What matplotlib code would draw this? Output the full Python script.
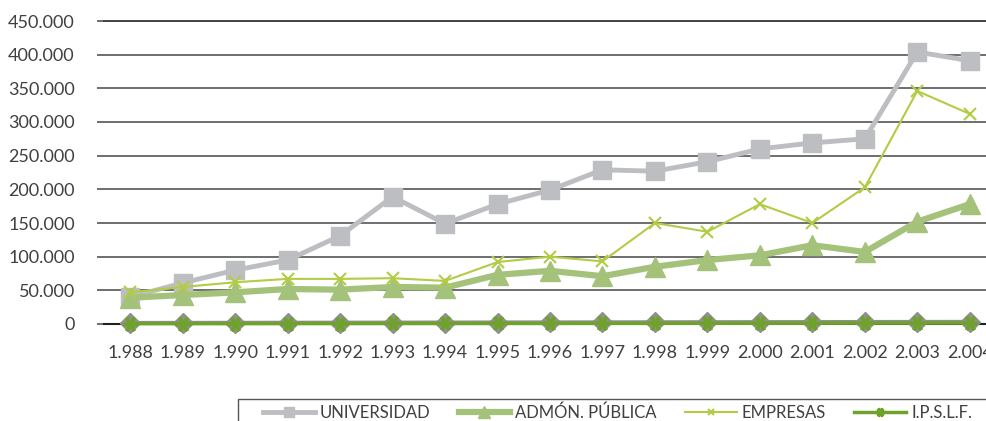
import numpy as np
import matplotlib
matplotlib.use("Agg")
import matplotlib.pyplot as plt
from matplotlib.patches import Rectangle
from matplotlib.ticker import FuncFormatter

plt.rcParams['font.family'] = ['Lato', 'DejaVu Sans']

years = ["1.988", "1.989", "1.990", "1.991", "1.992", "1.993", "1.994", "1.995", "1.996",
         "1.997", "1.998", "1.999", "2.000", "2.001", "2.002", "2.003", "2.004"]

universidad = [40000, 61000, 80000, 95000, 131000, 189000, 149000, 178000, 199000,
               229000, 227000, 241000, 260000, 269000, 275000, 404000, 391000]
admon = [39000, 43000, 47000, 52000, 51000, 55000, 54000, 73000, 79000,
         71000, 85000, 95000, 102000, 117000, 107000, 152000, 178000]
empresas = [47000, 55000, 62000, 67000, 67000, 68000, 64000, 92000, 100000,
            93000, 150000, 137000, 178000, 150000, 203000, 346000, 312000]
ipslf = [500, 600, 600, 700, 700, 800, 800, 900, 900,
         1000, 1000, 1100, 1200, 1200, 1300, 1400, 1500]
# grey diamond series hidden behind I.P.S.L.F. (its legend entry is cut off)
otros = [1500, 1600, 1700, 1800, 1900, 2000, 2100, 2200, 2300,
         2400, 2500, 2600, 2700, 2800, 2900, 3000, 3100]

c_univ = '#bdbec1'
c_admon = '#a4c27a'
c_emp = '#b2cc45'
c_ipslf = '#6fa22b'
c_otros = '#909090'
c_text = '#404040'

W, H = 987, 421
fig = plt.figure(figsize=(W / 100, H / 100), dpi=100)
ax = fig.add_axes([104 / W, 1 - 324 / H, 892 / W, (324 - 21) / H])

x = np.arange(len(years))

ax.plot(x, otros, color=c_otros, lw=3, marker='D', ms=10, mec=c_otros, mfc=c_otros,
        zorder=3, clip_on=False)
ax.plot(x, ipslf, color=c_ipslf, lw=2.5, marker=(6, 2, 90), ms=11, mew=2.4,
        mec=c_ipslf, label='I.P.S.L.F.', zorder=3.5, clip_on=False)
ax.plot(x, universidad, color=c_univ, lw=3.5, marker='s', ms=13, mec=c_univ, mfc=c_univ,
        label='UNIVERSIDAD', zorder=4)
ax.plot(x, admon, color=c_admon, lw=4.5, marker='^', ms=14, mec=c_admon, mfc=c_admon,
        label='ADMÓN. PÚBLICA', zorder=5)
ax.plot(x, empresas, color=c_emp, lw=1.5, marker='x', ms=8, mew=1.5, mec=c_emp,
        label='EMPRESAS', zorder=6)

ax.set_xlim(-0.5, len(years) - 0.5)
ax.set_ylim(0, 450000)
ax.set_yticks(np.arange(0, 450001, 50000))
ax.yaxis.set_major_formatter(FuncFormatter(lambda v, p: f"{int(v):,}".replace(",", ".")))
ax.set_xticks(x)
ax.set_xticklabels(years)

ax.grid(axis='y', color='#6e6e6e', lw=1.4)
ax.set_axisbelow(True)
for s in ['right', 'left']:
    ax.spines[s].set_visible(False)
ax.spines['top'].set_color('#444444')
ax.spines['top'].set_linewidth(1.4)
ax.spines['bottom'].set_color('#222222')
ax.spines['bottom'].set_linewidth(1.5)

ax.tick_params(axis='y', length=5, width=1.4, color='#6e6e6e', labelsize=13,
               labelcolor=c_text, pad=16)
ax.tick_params(axis='x', length=0, labelsize=13, labelcolor=c_text, pad=15)

# legend box (runs off the bottom / right edge like in the source)
fig.patches.append(Rectangle((238 / W, -0.05), 1.0, 1 - 399 / H + 0.05,
                             transform=fig.transFigure, fill=False,
                             edgecolor='#555555', lw=1.0))

h, l = ax.get_legend_handles_labels()
order = ['UNIVERSIDAD', 'ADMÓN. PÚBLICA', 'EMPRESAS', 'I.P.S.L.F.']
hd = dict(zip(l, h))
leg = fig.legend([hd[k] for k in order], order, loc='upper left', ncol=4,
                 bbox_to_anchor=(263 / W, 1 - 404 / H), fontsize=12,
                 frameon=False, handlelength=3.1, handletextpad=0.3,
                 columnspacing=1.7, markerscale=0.6, borderpad=0, borderaxespad=0)
for t in leg.get_texts():
    t.set_color(c_text)

fig.savefig('out.png', dpi=100)
